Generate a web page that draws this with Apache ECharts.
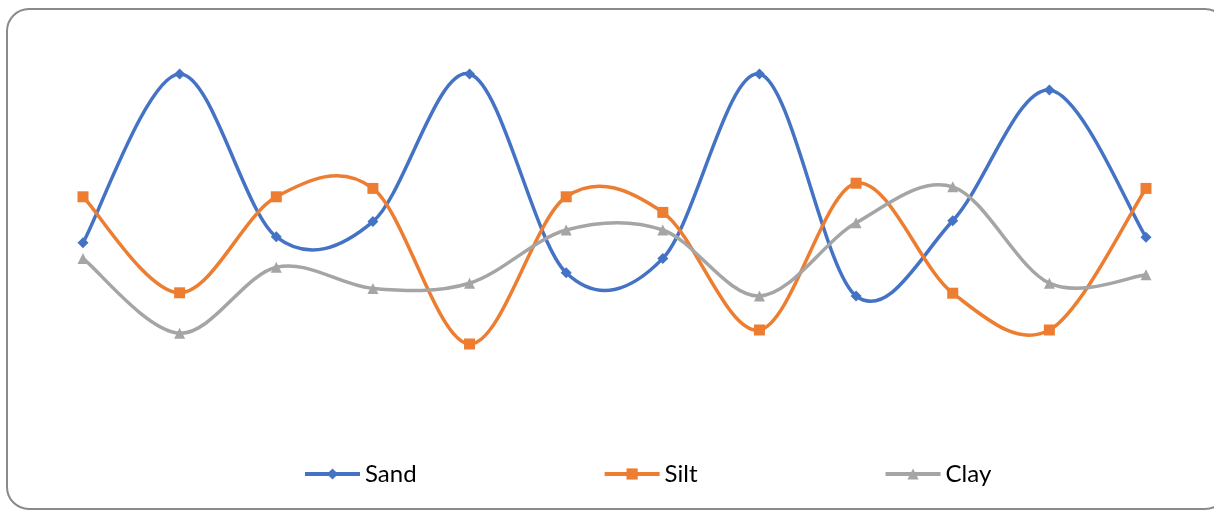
<!DOCTYPE html>
<html>
<head>
<meta charset="utf-8">
<script src="https://cdn.jsdelivr.net/npm/echarts@6/dist/echarts.min.js"></script>
<style>
  html, body { margin: 0; padding: 0; background: #ffffff; }
  #chart { width: 1214px; height: 510px; }
</style>
</head>
<body>
<div id="chart"></div>
<script>
// Sample positions along the profile
const categories = ['1', '2', '3', '4', '5', '6', '7', '8', '9', '10', '11', '12'];

// Fractions per sample
const sand = [44.3, 86.5, 45.8, 49.6, 86.5, 36.8, 40.4, 86.5, 31.0, 49.8, 82.5, 45.7];
const silt = [55.8, 31.8, 55.8, 57.9, 19.0, 55.8, 51.9, 22.5, 59.2, 31.7, 22.5, 57.9];
const clay = [40.4, 21.7, 38.2, 32.9, 34.2, 47.5, 47.5, 31.0, 49.3, 58.3, 34.2, 36.3];

const seriesNames = ['Sand', 'Silt', 'Clay'];
const seriesColors = ['#4472C4', '#ED7D31', '#A5A5A5'];
const LINE_WIDTH = 3.5;

const chart = echarts.init(document.getElementById('chart'), null, { renderer: 'canvas' });

// Markers (and legend entry) for one series; the curve itself is drawn by curveSeries
function markerSeries(name, data, color, symbol, size) {
  return {
    name: name,
    type: 'line',
    data: data,
    symbol: symbol,
    symbolSize: size,
    showAllSymbol: true,
    lineStyle: { color: color, width: LINE_WIDTH, opacity: 0 },
    itemStyle: { color: color },
    z: 3,
    emphasis: { disabled: true }
  };
}

// Smooth curve through the points using cardinal (Catmull-Rom) bezier segments
function curveSeries(name, values, color) {
  const n = values.length;
  const at = (api, k) => {
    const j = Math.max(0, Math.min(n - 1, k));
    return api.coord([j, values[j]]);
  };
  return {
    name: name,
    type: 'custom',
    data: values.map((v, i) => [i, v]),
    encode: { x: 0, y: 1 },
    z: 2,
    silent: true,
    renderItem: function (params, api) {
      const i = params.dataIndex;
      if (i >= n - 1) return { type: 'group', children: [] };
      const p0 = at(api, i - 1), p1 = at(api, i), p2 = at(api, i + 1), p3 = at(api, i + 2);
      return {
        type: 'bezierCurve',
        shape: {
          x1: p1[0], y1: p1[1],
          x2: p2[0], y2: p2[1],
          cpx1: p1[0] + (p2[0] - p0[0]) / 6, cpy1: p1[1] + (p2[1] - p0[1]) / 6,
          cpx2: p2[0] - (p3[0] - p1[0]) / 6, cpy2: p2[1] - (p3[1] - p1[1]) / 6
        },
        style: { stroke: color, lineWidth: LINE_WIDTH, fill: null, lineCap: 'round' }
      };
    }
  };
}

chart.setOption({
  animation: false,
  backgroundColor: '#ffffff',
  textStyle: { fontFamily: 'Lato, "Open Sans", sans-serif' },
  graphic: [{
    type: 'rect',
    shape: { x: 7, y: 9, width: 1220, height: 500, r: 22 },
    style: { fill: 'none', stroke: '#8a8a8a', lineWidth: 2 },
    z: 0,
    silent: true
  }],
  grid: { left: 83, right: 68, top: 20, bottom: 90 },
  xAxis: {
    type: 'category',
    data: categories,
    boundaryGap: false,
    show: false
  },
  yAxis: {
    type: 'value',
    min: 0,
    max: 100,
    show: false,
    splitLine: { show: false }
  },
  legend: {
    data: seriesNames,
    left: 303,
    top: 462,
    padding: 0,
    itemWidth: 55,
    itemHeight: 14,
    itemGap: 186,
    lineStyle: { opacity: 1, width: 4 },
    textStyle: { fontSize: 24, color: '#000000', fontFamily: 'Lato, "Open Sans", sans-serif' }
  },
  series: [
    markerSeries(seriesNames[0], sand, seriesColors[0], 'diamond', 11),
    markerSeries(seriesNames[1], silt, seriesColors[1], 'rect', 11),
    markerSeries(seriesNames[2], clay, seriesColors[2], 'triangle', 11),
    curveSeries(seriesNames[0], sand, seriesColors[0]),
    curveSeries(seriesNames[1], silt, seriesColors[1]),
    curveSeries(seriesNames[2], clay, seriesColors[2])
  ]
});
</script>
</body>
</html>
